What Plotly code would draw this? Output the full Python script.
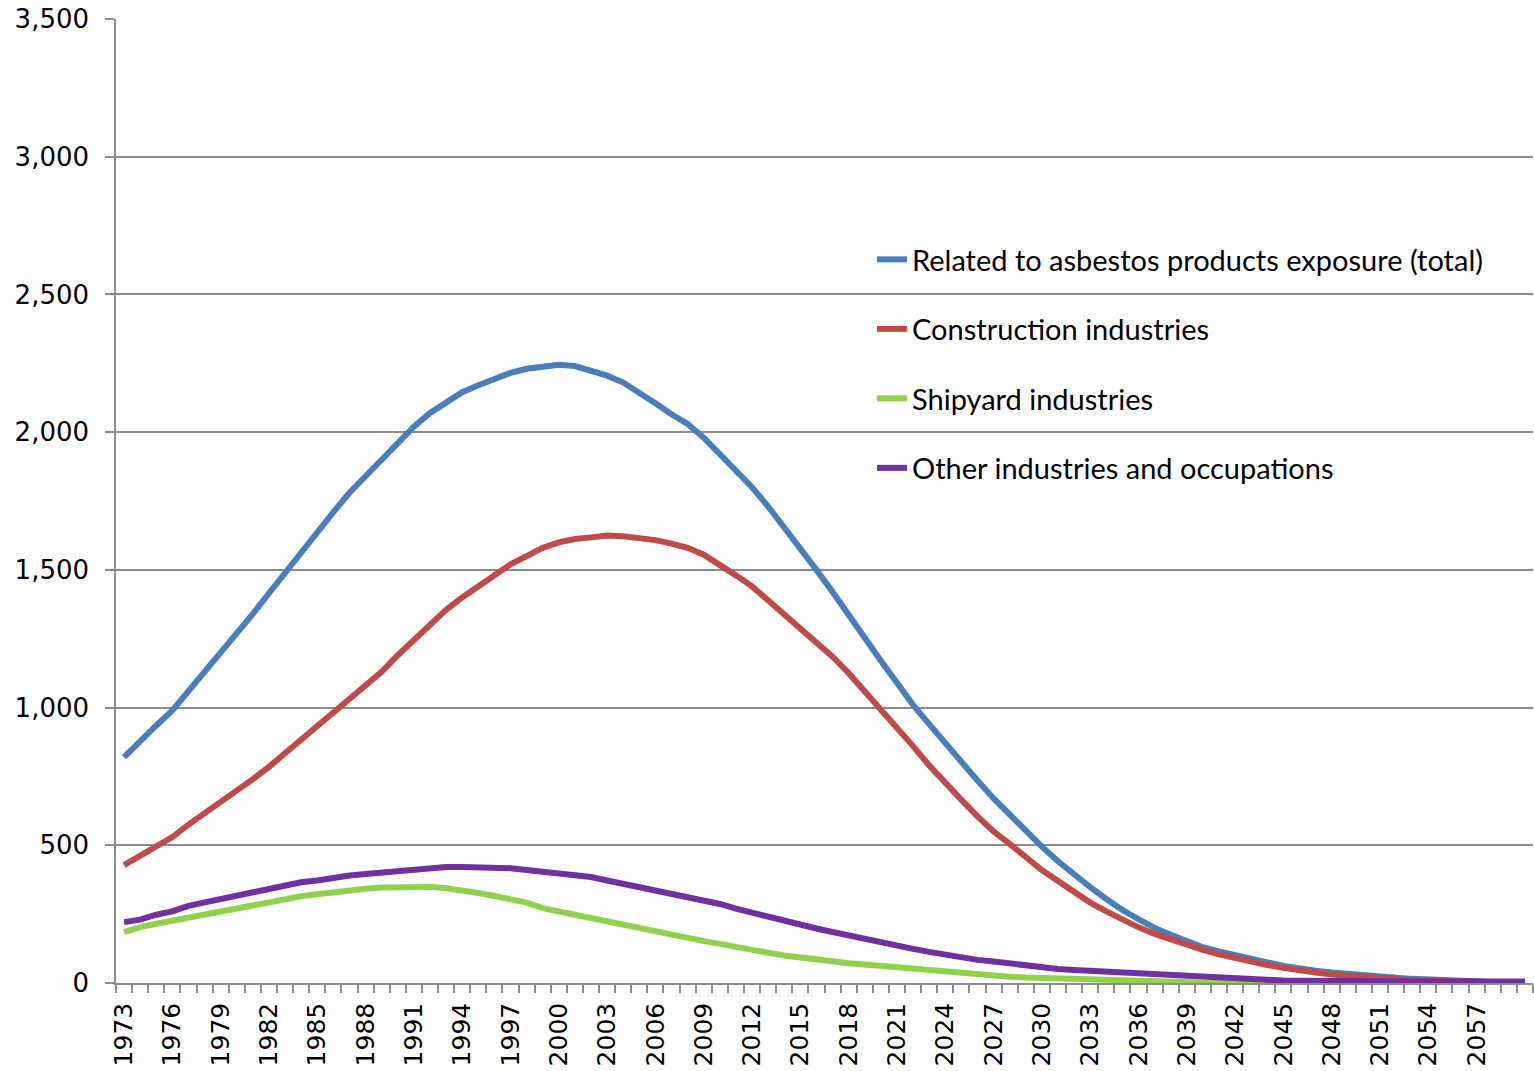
import plotly.graph_objects as go

years = list(range(1973, 2061))

total = [
    820, 880, 935, 990, 1060, 1125, 1195, 1270, 1340, 1415,
    1490, 1565, 1640, 1710, 1780, 1840, 1900, 1965, 2020, 2070,
    2110, 2145, 2170, 2195, 2215, 2230, 2240, 2245, 2240, 2225,
    2205, 2180, 2145, 2105, 2065, 2030, 1980, 1920, 1862, 1800,
    1730, 1655, 1580, 1500, 1420, 1335, 1250, 1170, 1090, 1010,
    940, 870, 800, 735, 670, 610, 550, 495, 442, 392,
    348, 305, 265, 232, 200, 175, 150, 130, 115, 100,
    88, 75, 62, 52, 45, 38, 32, 27, 23, 19,
    15, 12, 9, 7, 5, 4, 3, 3,
]

construction = [
    428, 460, 495, 530, 575, 615, 655, 700, 740, 785,
    835, 885, 930, 980, 1030, 1080, 1130, 1190, 1245, 1300,
    1355, 1400, 1440, 1485, 1520, 1550, 1580, 1600, 1612, 1618,
    1625, 1622, 1615, 1608, 1595, 1580, 1555, 1520, 1480, 1440,
    1390, 1340, 1290, 1240, 1185, 1125, 1060, 995, 930, 860,
    790, 725, 665, 605, 550, 505, 455, 410, 370, 330,
    292, 260, 228, 202, 178, 158, 138, 120, 104, 90,
    76, 65, 55, 45, 38, 31, 26, 21, 17, 13,
    10, 8, 6, 5, 4, 3, 2, 2,
]

shipyard = [
    185, 203, 215, 226, 238, 250, 262, 274, 286, 296,
    304, 315, 322, 330, 336, 342, 347, 349, 349, 349,
    344, 337, 327, 316, 303, 292, 272, 258, 248, 236,
    224, 212, 200, 186, 172, 162, 152, 142, 133, 123,
    110, 100, 92, 85, 78, 72, 67, 62, 56, 50,
    43, 38, 34, 30, 26, 23, 20, 18, 16, 14,
    12, 11, 9, 7, 5, 4, 2, 1, 0, 0,
    0, 0, 0, 0, 0, 0, 0, 0, 0, 0,
    0, 0, 0, 0, 0, 0, 0, 0,
]

other = [
    221, 230, 248, 260, 280, 292, 305, 318, 330, 342,
    354, 366, 372, 382, 390, 396, 402, 408, 414, 420,
    421, 421, 421, 417, 417, 410, 404, 398, 394, 385,
    372, 360, 348, 336, 325, 308, 296, 287, 270, 255,
    238, 225, 212, 198, 185, 172, 160, 147, 135, 124,
    113, 103, 92, 84, 78, 70, 63, 57, 51, 47,
    44, 40, 38, 36, 30, 26, 23, 19, 16, 14,
    12, 11, 9, 8, 7, 6, 6, 5, 5, 5,
    5, 5, 5, 5, 5, 5, 5, 5,
]

series_names = [
    "Related to asbestos products exposure (total)",
    "Construction industries",
    "Shipyard industries",
    "Other industries and occupations",
]
series_values = [total, construction, shipyard, other]
series_colors = ["#4A7EBB", "#BE4B48", "#92D050", "#7030A0"]

x_tick_years = list(range(1973, 2060, 3))
y_tick_vals = list(range(0, 3501, 500))

fig = go.Figure()
for i, (name, vals, col) in enumerate(zip(series_names, series_values, series_colors)):
    fig.add_trace(go.Scatter(
        x=years, y=vals, name=name, mode="lines",
        line=dict(color=col, width=6),
        legendgroup="g%d" % i,
    ))

grid_col = "#8C8C8C"
fig.update_layout(
    width=1534, height=1071,
    margin=dict(l=116, r=1, t=19, b=88),
    paper_bgcolor="white", plot_bgcolor="white",
    showlegend=True,
    legend=dict(
        x=(872 - 116) / 1417, xanchor="left",
        y=(983 - 234) / 964, yanchor="top",
        bgcolor="rgba(0,0,0,0)",
        font=dict(family="Lato, 'Open Sans', sans-serif", size=29, color="black"),
        tracegroupgap=28.8,
        traceorder="grouped",
    ),
    xaxis=dict(
        range=[1972.5, 2060.5],
        tickmode="array", tickvals=x_tick_years,
        ticktext=[str(y) for y in x_tick_years],
        tickangle=-90,
        ticks="outside", ticklen=0,
        tickfont=dict(family="DejaVu Sans", size=25, color="black"),
        showgrid=False, zeroline=False,
        showline=True, linecolor=grid_col, linewidth=1.5,
        minor=dict(tickmode="linear", tick0=1972.5, dtick=1, ticks="outside",
                   ticklen=8, tickcolor=grid_col, tickwidth=1.5),
        ticklabelstandoff=8,
    ),
    yaxis=dict(
        range=[0, 3500],
        tickmode="array", tickvals=y_tick_vals,
        tickformat=",",
        ticks="outside", ticklen=9, tickcolor=grid_col, tickwidth=1.5,
        tickfont=dict(family="DejaVu Sans", size=26, color="black"),
        showgrid=True, gridcolor=grid_col, gridwidth=1.5,
        zeroline=False,
        showline=True, linecolor=grid_col, linewidth=1.5,
        ticklabelstandoff=11,
    ),
)

fig.write_html(
    "out.html",
    config={"displayModeBar": False},
    post_script="document.body.style.margin='0';document.body.style.overflow='hidden';",
)
